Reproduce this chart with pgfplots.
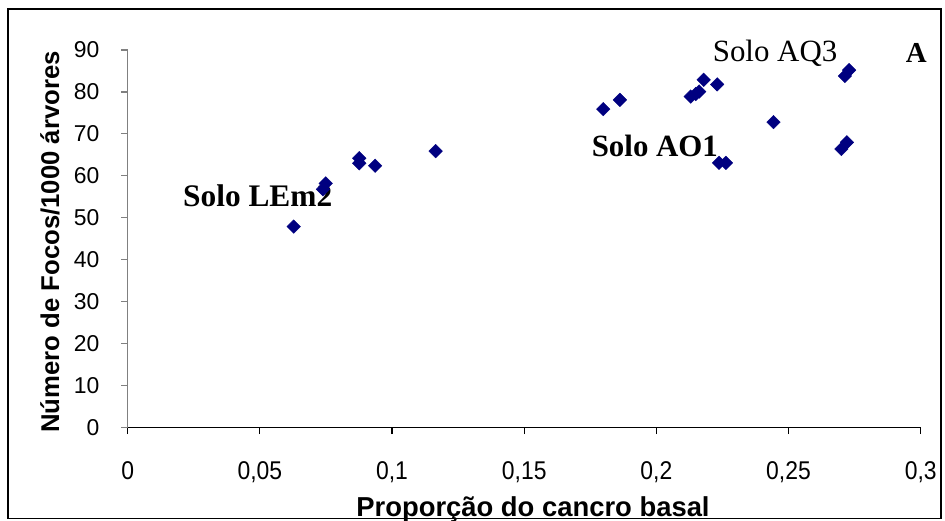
\documentclass[border=0pt]{standalone}
\usepackage{pgfplots}
\pgfplotsset{compat=1.18}
\usepackage{fontspec}
\setmainfont{Liberation Sans}
\newfontfamily\timesfont{Liberation Serif}
\definecolor{navy}{RGB}{0,0,128}
\definecolor{axgray}{RGB}{128,128,128}
\begin{document}
\begin{tikzpicture}[x=1bp,y=1bp]
\begin{axis}[
  at={(127.7bp,93.5bp)}, anchor=south west, scale only axis,
  width=793bp, height=377.5bp,
  xmin=0, xmax=0.3, ymin=0, ymax=90,
  axis x line*=bottom, axis y line*=left,
  x axis line style={black, line width=1.2bp},
  y axis line style={axgray, line width=1.2bp},
  xtick={0,0.05,0.1,0.15,0.2,0.25,0.3},
  xticklabels={0,{0,05},{0,1},{0,15},{0,2},{0,25},{0,3}},
  ytick={0,10,20,30,40,50,60,70,80,90},
  yticklabels={0,10,20,30,40,50,60,70,80,90},
  tick align=outside, major tick length=6.5bp,
  xtick style={black, line width=1.2bp},
  ytick style={axgray, line width=1.2bp},
  minor tick num=0,
  ticklabel style={font=\fontsize{23}{23}\selectfont, inner sep=0pt},
  xticklabel style={anchor=base, yshift=-45.5bp, yscale=1.12},
  yticklabel style={anchor=east, xshift=-21.7bp},
  clip=false,
]
\addplot[only marks, mark=square*, mark size=4.8bp,
  mark options={rotate=45, fill=navy, draw=navy}] coordinates {
(0.0628,47.9) (0.0749,58.2) (0.0739,56.8) (0.0876,64.2) (0.0876,63.0)
(0.0936,62.4) (0.1165,65.9) (0.1799,75.9) (0.1862,78.1) (0.2130,78.9)
(0.2162,80.1) (0.2149,79.5) (0.2179,82.9) (0.2230,81.8) (0.2443,72.8)
(0.2237,63.1) (0.2263,63.1) (0.2713,83.8) (0.2729,85.2) (0.2700,66.4)
(0.2721,68.0)
};
\node[anchor=base west, inner sep=0pt, font=\timesfont\bfseries\fontsize{31.5}{31.5}\selectfont] at (axis cs:0.0209,52.6) {Solo LEm2};
\node[anchor=base west, inner sep=0pt, font=\timesfont\bfseries\fontsize{31}{31}\selectfont] at (axis cs:0.1755,64.6) {Solo AO1};
\node[anchor=base west, inner sep=0pt, font=\timesfont\fontsize{31}{31}\selectfont] at (axis cs:0.2213,87.2) {Solo AQ3};
\node[anchor=base west, inner sep=0pt, font=\timesfont\bfseries\fontsize{29}{29}\selectfont] at (axis cs:0.2943,87.0) {A};
\end{axis}
\node[rotate=90, inner sep=0pt, font=\bfseries\fontsize{25.8}{25.8}\selectfont] at (50bp,279bp) {Número de Focos/1000 árvores};
\node[anchor=base, inner sep=0pt, font=\bfseries\fontsize{27.5}{27.5}\selectfont] at (533bp,4.5bp) {Proporção do cancro basal};
\draw[line width=1.3bp] (8bp,2.5bp) rectangle (941bp,512bp);
\pgfresetboundingbox
\useasboundingbox (0,0) rectangle (945bp,521bp);
\end{tikzpicture}
\end{document}
